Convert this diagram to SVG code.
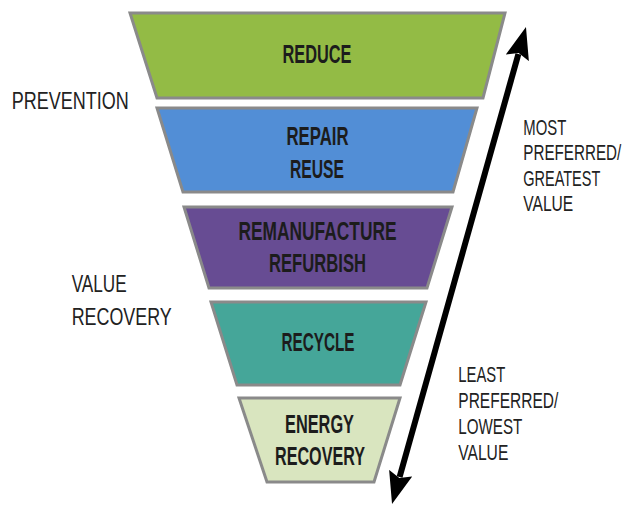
<svg xmlns="http://www.w3.org/2000/svg" width="627" height="508" viewBox="0 0 627 508">
<style>
.tier{stroke:#8a8a8a;stroke-width:3;stroke-linejoin:miter}
.tl{font-family:"Liberation Sans Narrow","Liberation Sans",Arial,sans-serif;font-size:25px;font-weight:bold;fill:#1c1c1c;text-anchor:middle}
.side{font-family:"Liberation Sans Narrow","Liberation Sans",Arial,sans-serif;font-size:24px;fill:#222}
.rl{font-family:"Liberation Sans Narrow","Liberation Sans",Arial,sans-serif;font-size:21.5px;fill:#222}
</style>
<defs>
<marker id="head" markerUnits="userSpaceOnUse" markerWidth="32" markerHeight="24" viewBox="0 0 32 24" refX="4" refY="12" orient="auto-start-reverse">
<path d="M0,0 L32,12 L0,24 L5,12 z" fill="#000"/>
</marker>
</defs>
<rect width="627" height="508" fill="#fff"/>
<g id="reduce">
<polygon class="tier" points="130,13 505,13 483,98 157,98" fill="#93bb45"/>
<text class="tl" x="317" y="63" textLength="69" lengthAdjust="spacingAndGlyphs">REDUCE</text>
</g>
<g id="repair-reuse">
<polygon class="tier" points="157,108 477,108 453,192 183,192" fill="#528ed6"/>
<text class="tl" x="317.5" y="145" textLength="62" lengthAdjust="spacingAndGlyphs">REPAIR</text>
<text class="tl" x="317" y="178" textLength="54" lengthAdjust="spacingAndGlyphs">REUSE</text>
</g>
<g id="remanufacture-refurbish">
<polygon class="tier" points="184,207 452,207 427,288 209,288" fill="#674c93"/>
<text class="tl" x="317.5" y="240" textLength="158" lengthAdjust="spacingAndGlyphs">REMANUFACTURE</text>
<text class="tl" x="317.5" y="271.5" textLength="97" lengthAdjust="spacingAndGlyphs">REFURBISH</text>
</g>
<g id="recycle">
<polygon class="tier" points="211,302 426,302 400,385 237,385" fill="#45a699"/>
<text class="tl" x="318" y="351" textLength="73" lengthAdjust="spacingAndGlyphs">RECYCLE</text>
</g>
<g id="energy-recovery">
<polygon class="tier" points="239,398 400,398 374,482 267,482" fill="#d9e5bf"/>
<text class="tl" x="319.5" y="432.5" textLength="69" lengthAdjust="spacingAndGlyphs">ENERGY</text>
<text class="tl" x="320" y="465" textLength="90" lengthAdjust="spacingAndGlyphs">RECOVERY</text>
</g>
<g id="prevention">
<text class="side" x="11.7" y="109" textLength="117" lengthAdjust="spacingAndGlyphs">PREVENTION</text>
</g>
<g id="value-recovery">
<text class="side" x="71.7" y="291.5" textLength="55" lengthAdjust="spacingAndGlyphs">VALUE</text>
<text class="side" x="71.7" y="325" textLength="100" lengthAdjust="spacingAndGlyphs">RECOVERY</text>
</g>
<g id="most-preferred" transform="translate(523.3,0) scale(0.7,1)">
<text class="rl" x="0" y="135" textLength="61.4" lengthAdjust="spacingAndGlyphs">MOST</text>
<text class="rl" x="0" y="160" textLength="140" lengthAdjust="spacingAndGlyphs">PREFERRED/</text>
<text class="rl" x="0" y="186" textLength="110" lengthAdjust="spacingAndGlyphs">GREATEST</text>
<text class="rl" x="0" y="211" textLength="71.4" lengthAdjust="spacingAndGlyphs">VALUE</text>
</g>
<g id="least-preferred">
<text class="rl" x="458.3" y="382" textLength="47" lengthAdjust="spacingAndGlyphs">LEAST</text>
<text class="rl" x="458.3" y="408" textLength="100" lengthAdjust="spacingAndGlyphs">PREFERRED/</text>
<text class="rl" x="458.3" y="434" textLength="64" lengthAdjust="spacingAndGlyphs">LOWEST</text>
<text class="rl" x="458.3" y="460" textLength="50" lengthAdjust="spacingAndGlyphs">VALUE</text>
</g>
<g id="connectors">
<line x1="399.6" y1="477" x2="518.4" y2="54" stroke="#000" stroke-width="6" marker-start="url(#head)" marker-end="url(#head)"/>
</g>
</svg>
